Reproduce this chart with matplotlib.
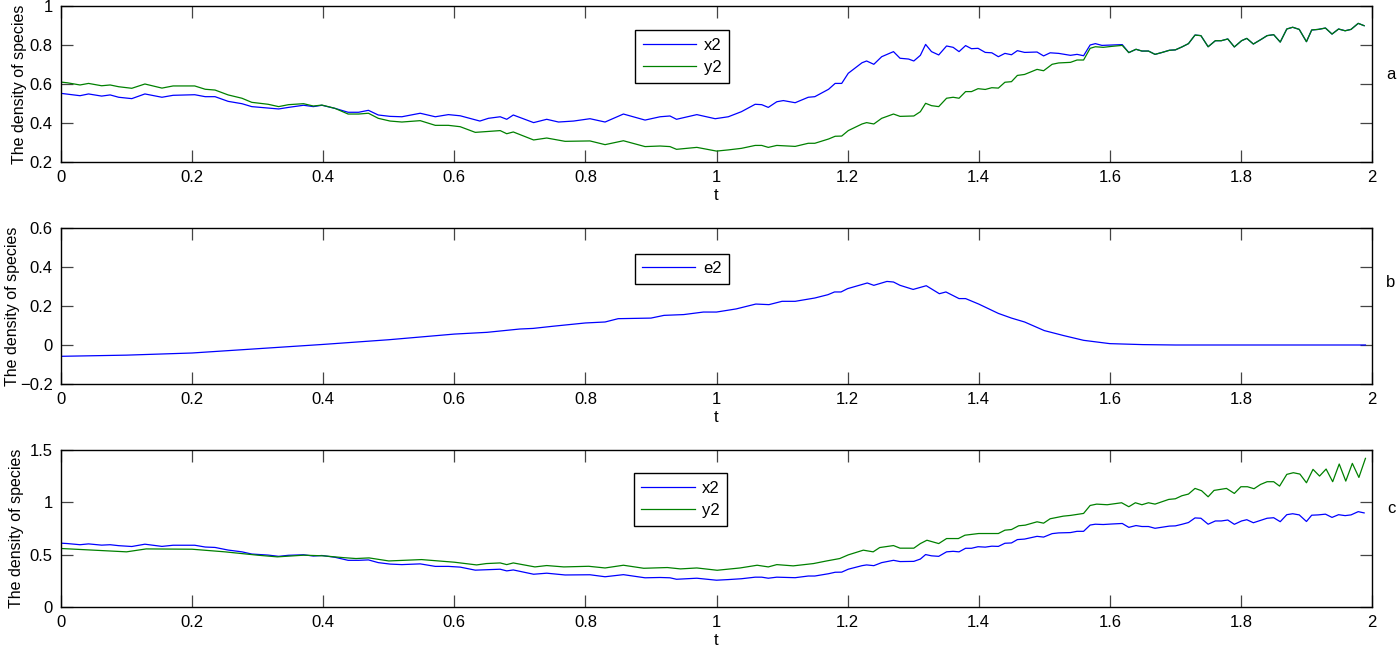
import matplotlib
matplotlib.use("Agg")
import matplotlib.pyplot as plt
from matplotlib.ticker import FuncFormatter, MultipleLocator

plt.rcParams["font.family"] = ["Liberation Sans", "DejaVu Sans"]

# ---- panel a: x2 and y2 ---------------------------------------------------
ta_x2 = [0.0, 0.029, 0.042, 0.062, 0.075, 0.088, 0.108, 0.128, 0.154, 0.171, 0.204, 0.220,
         0.235, 0.255, 0.276, 0.291, 0.316, 0.332, 0.347, 0.370, 0.385, 0.398, 0.418, 0.438,
         0.454, 0.469, 0.484, 0.502, 0.520, 0.548, 0.571, 0.591, 0.609, 0.639, 0.652, 0.670,
         0.680, 0.690, 0.721, 0.741, 0.759, 0.782, 0.807, 0.830, 0.858, 0.891, 0.914, 0.929,
         0.939, 0.970, 0.998, 1.018, 1.038, 1.059, 1.069, 1.079, 1.092, 1.102, 1.120, 1.140,
         1.150, 1.171, 1.181, 1.191, 1.201, 1.222, 1.229, 1.240, 1.252, 1.270, 1.280, 1.293,
         1.301, 1.311, 1.319, 1.328, 1.339, 1.351, 1.361, 1.370, 1.380, 1.389, 1.399, 1.410,
         1.420, 1.430, 1.440, 1.450, 1.459, 1.470, 1.489, 1.499, 1.509, 1.522, 1.540, 1.550,
         1.560, 1.570, 1.578, 1.588, 1.603, 1.619]
a_x2 = [0.552, 0.540, 0.549, 0.538, 0.544, 0.532, 0.525, 0.549, 0.532, 0.542, 0.545, 0.535,
        0.535, 0.511, 0.499, 0.484, 0.477, 0.472, 0.480, 0.491, 0.484, 0.491, 0.475, 0.455,
        0.455, 0.465, 0.441, 0.434, 0.432, 0.450, 0.432, 0.443, 0.437, 0.410, 0.424, 0.432,
        0.419, 0.441, 0.402, 0.419, 0.405, 0.410, 0.422, 0.405, 0.446, 0.415, 0.432, 0.436,
        0.419, 0.443, 0.422, 0.432, 0.458, 0.496, 0.494, 0.480, 0.509, 0.515, 0.504, 0.532,
        0.535, 0.573, 0.603, 0.603, 0.655, 0.709, 0.718, 0.701, 0.740, 0.766, 0.732, 0.728,
        0.718, 0.747, 0.803, 0.766, 0.749, 0.795, 0.788, 0.766, 0.797, 0.781, 0.783, 0.762,
        0.760, 0.740, 0.757, 0.750, 0.771, 0.762, 0.764, 0.744, 0.760, 0.757, 0.747, 0.752,
        0.745, 0.800, 0.807, 0.798, 0.800, 0.802]

ta_y2 = [0.0, 0.010, 0.029, 0.042, 0.062, 0.075, 0.088, 0.108, 0.128, 0.154, 0.171, 0.204,
         0.220, 0.235, 0.255, 0.276, 0.291, 0.316, 0.332, 0.347, 0.370, 0.385, 0.398, 0.418,
         0.438, 0.454, 0.469, 0.484, 0.502, 0.520, 0.548, 0.571, 0.591, 0.609, 0.632, 0.652,
         0.670, 0.680, 0.690, 0.721, 0.741, 0.769, 0.807, 0.830, 0.858, 0.891, 0.914, 0.929,
         0.939, 0.970, 1.000, 1.018, 1.038, 1.059, 1.069, 1.079, 1.092, 1.120, 1.140, 1.150,
         1.171, 1.181, 1.191, 1.201, 1.222, 1.229, 1.240, 1.252, 1.270, 1.280, 1.301, 1.311,
         1.319, 1.328, 1.339, 1.351, 1.361, 1.370, 1.380, 1.389, 1.399, 1.410, 1.420, 1.430,
         1.440, 1.450, 1.459, 1.470, 1.489, 1.499, 1.512, 1.522, 1.540, 1.550, 1.560, 1.570,
         1.578, 1.590, 1.603, 1.619]
a_y2 = [0.610, 0.606, 0.595, 0.603, 0.591, 0.595, 0.586, 0.578, 0.600, 0.579, 0.590, 0.590,
        0.573, 0.569, 0.544, 0.527, 0.506, 0.496, 0.484, 0.494, 0.499, 0.487, 0.492, 0.475,
        0.446, 0.446, 0.450, 0.424, 0.410, 0.405, 0.412, 0.388, 0.388, 0.381, 0.352, 0.357,
        0.361, 0.345, 0.354, 0.313, 0.323, 0.306, 0.308, 0.289, 0.309, 0.279, 0.282, 0.279,
        0.265, 0.275, 0.256, 0.262, 0.270, 0.285, 0.285, 0.275, 0.285, 0.280, 0.296, 0.296,
        0.318, 0.332, 0.333, 0.361, 0.395, 0.402, 0.395, 0.424, 0.446, 0.434, 0.436, 0.458,
        0.501, 0.489, 0.484, 0.527, 0.532, 0.527, 0.561, 0.561, 0.576, 0.572, 0.581, 0.579,
        0.609, 0.612, 0.644, 0.649, 0.675, 0.668, 0.701, 0.708, 0.711, 0.723, 0.723, 0.783,
        0.791, 0.788, 0.793, 0.798]

# after t ~ 1.62 both species coincide
t_tail = [1.629, 1.640, 1.649, 1.659, 1.669, 1.680, 1.691, 1.700, 1.710, 1.720, 1.730, 1.739,
          1.750, 1.761, 1.770, 1.780, 1.790, 1.801, 1.809, 1.819, 1.831, 1.840, 1.850, 1.860,
          1.870, 1.879, 1.889, 1.900, 1.908, 1.918, 1.929, 1.939, 1.949, 1.959, 1.968, 1.979,
          1.988]
tail = [0.761, 0.778, 0.769, 0.769, 0.752, 0.762, 0.773, 0.775, 0.790, 0.807, 0.851, 0.848,
        0.791, 0.822, 0.822, 0.831, 0.790, 0.822, 0.834, 0.805, 0.829, 0.848, 0.853, 0.815,
        0.882, 0.891, 0.880, 0.817, 0.877, 0.880, 0.887, 0.856, 0.882, 0.873, 0.880, 0.911,
        0.899]

# ---- panel b: e2 ----------------------------------------------------------
tb = [0.0, 0.1, 0.2, 0.3, 0.4, 0.5, 0.6, 0.65, 0.7, 0.72, 0.75, 0.8, 0.83, 0.85, 0.9, 0.92,
      0.95, 0.98, 1.0, 1.03, 1.06, 1.08, 1.1, 1.12, 1.15, 1.17, 1.18, 1.19, 1.2, 1.23, 1.24,
      1.26, 1.27, 1.28, 1.3, 1.32, 1.34, 1.35, 1.37, 1.38, 1.4, 1.43, 1.45, 1.47, 1.5, 1.53,
      1.56, 1.6, 1.65, 1.7, 1.8, 1.9, 1.99]
b_e2 = [-0.058, -0.052, -0.041, -0.019, 0.003, 0.027, 0.056, 0.065, 0.082, 0.085, 0.096,
        0.113, 0.118, 0.135, 0.138, 0.152, 0.156, 0.169, 0.169, 0.185, 0.210, 0.207, 0.224,
        0.224, 0.241, 0.258, 0.272, 0.272, 0.289, 0.318, 0.306, 0.326, 0.323, 0.306, 0.285,
        0.304, 0.263, 0.272, 0.238, 0.238, 0.210, 0.162, 0.138, 0.118, 0.074, 0.048, 0.024,
        0.007, 0.002, 0.0, 0.0, 0.0, 0.0]

# ---- panel c: x2 (same trajectory as y2 of panel a) and y2 ---------------
tc_y2 = [0.0, 0.05, 0.1, 0.13, 0.2, 0.25, 0.3, 0.33, 0.37, 0.4, 0.43, 0.45, 0.47, 0.5, 0.55,
         0.6, 0.634, 0.649, 0.670, 0.680, 0.690, 0.723, 0.741, 0.767, 0.805, 0.830, 0.858,
         0.889, 0.925, 0.945, 0.970, 1.001, 1.036, 1.062, 1.079, 1.092, 1.117, 1.148, 1.168,
         1.188, 1.201, 1.224, 1.239, 1.249, 1.270, 1.280, 1.301, 1.311, 1.321, 1.339, 1.351,
         1.369, 1.379, 1.400, 1.430, 1.440, 1.450, 1.461, 1.471, 1.489, 1.499, 1.509, 1.529,
         1.540, 1.560, 1.570, 1.580, 1.596, 1.618, 1.629, 1.639, 1.649, 1.659, 1.669, 1.690,
         1.700, 1.710, 1.720, 1.730, 1.740, 1.750, 1.759, 1.778, 1.790, 1.800, 1.810, 1.820,
         1.830, 1.840, 1.850, 1.859, 1.870, 1.880, 1.890, 1.900, 1.910, 1.920, 1.930, 1.940,
         1.950, 1.960, 1.970, 1.980, 1.990]
c_y2 = [0.559, 0.543, 0.527, 0.555, 0.552, 0.527, 0.495, 0.479, 0.495, 0.489, 0.472, 0.463,
        0.469, 0.440, 0.453, 0.428, 0.402, 0.415, 0.421, 0.405, 0.421, 0.383, 0.396, 0.383,
        0.389, 0.373, 0.399, 0.370, 0.377, 0.364, 0.373, 0.351, 0.373, 0.399, 0.383, 0.405,
        0.393, 0.415, 0.440, 0.463, 0.498, 0.543, 0.527, 0.568, 0.587, 0.562, 0.562, 0.606,
        0.638, 0.606, 0.654, 0.654, 0.686, 0.702, 0.702, 0.734, 0.740, 0.776, 0.782, 0.814,
        0.801, 0.843, 0.868, 0.875, 0.894, 0.970, 0.983, 0.977, 0.996, 0.958, 0.996, 0.977,
        0.996, 0.983, 1.028, 1.034, 1.063, 1.079, 1.133, 1.111, 1.053, 1.114, 1.133, 1.085,
        1.149, 1.149, 1.130, 1.171, 1.197, 1.197, 1.155, 1.267, 1.283, 1.270, 1.187, 1.315,
        1.251, 1.318, 1.197, 1.366, 1.203, 1.372, 1.238, 1.420]

BLUE = "#0000ff"
GREEN = "#008000"
W = 0.9
FS = 12

fig = plt.figure(figsize=(13.99, 6.47), dpi=100)
L, WID, H = 61 / 1399, 1311 / 1399, 156 / 647
ax_a = fig.add_axes([L, 1 - 162 / 647, WID, H])
ax_b = fig.add_axes([L, 1 - 384 / 647, WID, H])
ax_c = fig.add_axes([L, 1 - 607 / 647, WID, 157 / 647])

ax_a.plot(ta_x2 + t_tail, a_x2 + tail, color=BLUE, lw=W, label="x2")
ax_a.plot(ta_y2 + t_tail, a_y2 + tail, color=GREEN, lw=W, label="y2")
ax_b.plot(tb, b_e2, color=BLUE, lw=W, label="e2")
ax_c.plot(ta_y2 + t_tail, a_y2 + tail, color=BLUE, lw=W, label="x2")
ax_c.plot(tc_y2, c_y2, color=GREEN, lw=W, label="y2")

fmt = FuncFormatter(lambda v, p: f"{v:g}".replace("-", "\u2212"))
panels = [
    (ax_a, (0.2, 1.0), 0.2, "a", 0.56, (0.438, 0.846), -0.026),
    (ax_b, (-0.2, 0.6), 0.2, "b", 0.65, (0.4375, 0.835), -0.031),
    (ax_c, (0.0, 1.5), 0.5, "c", 0.63, (0.437, 0.852), -0.028),
]
for ax, ylim, ystep, tag, ty, lpos, ylx in panels:
    ax.set_xlim(0, 2)
    ax.set_ylim(*ylim)
    ax.xaxis.set_major_locator(MultipleLocator(0.2))
    ax.yaxis.set_major_locator(MultipleLocator(ystep))
    ax.xaxis.set_major_formatter(fmt)
    ax.yaxis.set_major_formatter(fmt)
    ax.tick_params(direction="in", length=8.5, width=0.9, color="#444444",
                   top=True, right=True, labelsize=FS, pad=6)
    for s in ax.spines.values():
        s.set_linewidth(1.0)
    ax.set_xlabel("t", fontsize=FS, labelpad=2)
    ax.set_ylabel("The density of species", fontsize=11.5)
    ax.yaxis.set_label_coords(ylx, 0.5)
    ax.text(1.0145, ty, tag, transform=ax.transAxes, fontsize=FS, va="center", ha="center")
    leg = ax.legend(loc="upper left", bbox_to_anchor=lpos, fontsize=FS, frameon=True,
                    fancybox=False, framealpha=1, edgecolor="black", handlelength=3.2,
                    borderpad=0.45, labelspacing=0.45, handletextpad=0.45, borderaxespad=0)
    leg.get_frame().set_linewidth(1.0)

fig.savefig("out.png", dpi=100)
